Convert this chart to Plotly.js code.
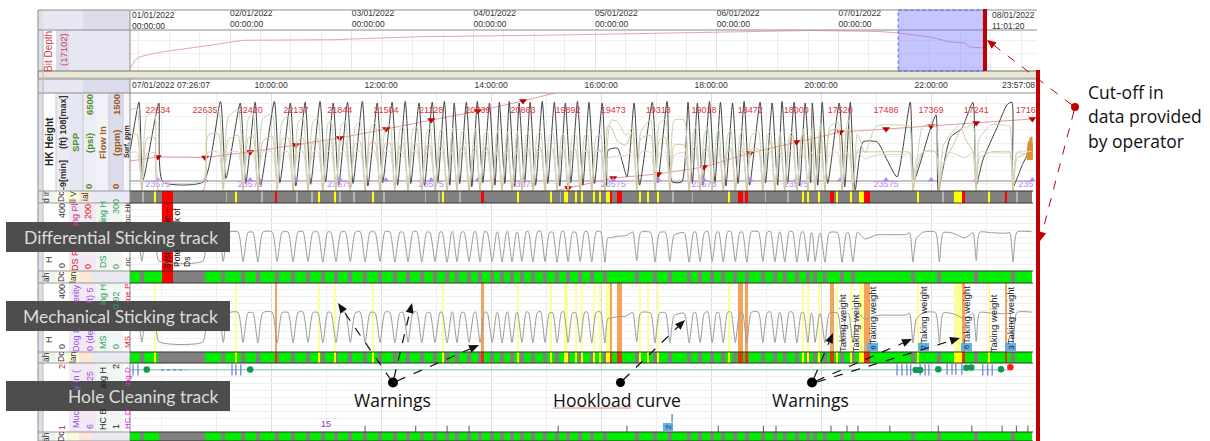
<!DOCTYPE html>
<html><head><meta charset="utf-8">
<script src="https://cdn.plot.ly/plotly-3.0.1.min.js"></script>
<style>html,body{margin:0;padding:0;background:#fff}</style></head>
<body><div id="c" style="width:1210px;height:441px"></div>
<script>
// ---------- DATA ----------
// overview track: time in days since 01/01/2022, bit depth in ft
const overviewDay = [0.18,0.22,0.26,0.42,0.81,1.11,1.85,2.56,3.71,5.77,6.34,6.49,6.75,6.92,7.04,7.08,7.19];
const overviewDepth = [9718,12670,13888,15510,17950,19940,20160,21270,21895,23555,23185,22633,21157,19312,18943,17467,17100];
const overviewTicks = [1,2,3,4,5,6];
const overviewTickText = ['02/01/2022<br>00:00:00','03/01/2022<br>00:00:00','04/01/2022<br>00:00:00','05/01/2022<br>00:00:00','06/01/2022<br>00:00:00','07/01/2022<br>00:00:00'];
const mainTicks = [10,12,14,16,18,20,22];
const mainTickText = ['10:00:00','12:00:00','14:00:00','16:00:00','18:00:00','20:00:00','22:00:00'];

// hookload / SPP / flow share one time base (hours of 07/01/2022)
const hookT = [7.44,7.56,7.65,7.74, 7.88,7.96,8.76,8.85,
 9.04,9.13,9.22, 9.40,9.49,9.58, 9.67,9.76,9.85, 10.02,10.11,10.20, 10.31,10.40,10.49, 10.58,10.67,10.76,
 10.85,10.94,11.03, 11.09,11.18,11.27, 11.35,11.44,11.53, 11.62,11.71,11.80, 11.89,11.98,12.07, 12.16,12.25,12.34,
 12.40,12.49,12.58, 12.65,12.74,12.83, 12.89,12.98,13.07, 13.11,13.20,13.28, 13.30,13.38,13.46, 13.51,13.60,13.69,
 13.72,13.80,13.88, 13.93,14.02,14.10, 14.12,14.20,14.28, 14.30,14.38,14.46, 14.48,14.56,14.64, 14.68,14.76,14.84,
 14.90,14.98,15.06, 15.12,15.20,15.28, 15.32,15.40,15.48, 15.54,15.62,15.70, 15.75,15.83,15.91, 15.99,16.07,16.12,
 16.18,16.30,16.45,16.56, 16.58,16.65,16.72, 16.90,16.98,17.06, 17.17,17.25,17.33, 17.51,17.60,17.68,
 17.72,17.80,17.88, 17.94,18.02,18.10, 18.14,18.22,18.30, 18.36,18.44,18.52, 18.57,18.65,18.73, 18.86,18.94,19.02,
 19.08,19.16,19.24, 19.26,19.34,19.42, 19.48,19.56,19.64, 19.68,19.76,19.82, 19.84,19.89,19.97, 19.99,20.07,20.15,
 20.30,20.38,20.46, 20.50,20.58,20.66,
 20.80,21.00,21.55,21.61,21.67,21.73,21.85,22.08,22.15,22.22,22.40,22.55,22.62,22.76,22.82,22.88,23.10,23.35,23.43,23.49,23.56,23.83];
const hookV = [226,228,58,222, 224,60,58,226,
 228,56,226, 230,54,227, 228,52,229, 231,55,228, 229,53,230, 232,56,228,
 229,52,231, 227,54,229, 230,55,228, 232,53,229, 228,56,231, 230,52,227,
 229,55,232, 231,53,228, 227,56,230, 229,52,226, 233,54,228, 230,56,229,
 232,53,231, 228,55,226, 230,52,229, 233,54,227, 229,56,232, 231,53,228,
 235,55,226, 229,52,231, 234,54,228, 227,56,230, 232,53,229, 233,52,194,
 196,205,208,229, 229,60,228, 226,53,225, 228,55,212, 225,52,226,
 230,54,227, 233,56,229, 228,53,231, 232,55,226, 229,52,230, 231,56,228,
 233,54,229, 227,53,231, 232,52,228, 229,55,226, 220,56,218, 223,52,226,
 225,50,221, 224,53,228,
 188,212,215,225,53,190,228,228,53,226,222,200,194,225,60,228,225,222,225,53,229,231];
const sppV = [5400,5450,200,5000, 5200,40,40,5300,
 5300,150,4900, 5400,120,4700, 5200,90,4800, 5100,160,4600, 4950,80,4500, 4900,110,4600,
 4800,130,4400, 4700,70,4300, 4650,140,4250, 4600,90,4100, 4500,60,4050, 4400,120,4000,
 4300,80,4100, 4250,100,3900, 4200,60,3950, 4100,90,3800, 4150,110,3850, 4000,70,3800,
 4100,90,3750, 3950,60,3800, 4000,120,3700, 3900,80,3750, 3950,100,3700, 3850,60,3750,
 3900,90,3700, 3850,110,3650, 3800,70,3700, 3750,100,3650, 3800,80,3600, 3700,90,3400,
 4700,4600,3700,4200, 4300,120,3900, 4700,90,4500, 4750,110,4700, 4700,80,3900,
 4300,100,3800, 4200,70,3750, 4100,120,3700, 4050,90,3600, 4000,60,3650, 3950,100,3600,
 4000,80,3650, 3900,110,3600, 3950,70,3500, 4100,90,3700, 4300,100,3900, 4500,60,4200,
 4600,90,4300, 4700,70,3800,
 2500,4300,4350,4300,100,1500,4300,4300,60,3000,4000,4500,4200,4400,100,3500,4400,4350,4300,80,2500,2400];
const flowV = [860,870,10,800, 820,0,0,850,
 880,20,780, 850,10,800, 860,0,760, 840,15,790, 820,5,770, 810,10,760,
 800,0,750, 790,20,760, 770,5,730, 760,0,740, 750,10,720, 740,15,700,
 730,0,710, 720,10,690, 700,5,680, 710,0,670, 690,15,680, 680,5,660,
 690,0,670, 670,10,650, 680,5,660, 660,0,640, 670,10,650, 650,5,640,
 660,0,630, 640,10,620, 650,5,630, 630,0,610, 640,10,620, 620,0,1000,
 980,760,700,900, 880,15,800, 850,10,780, 820,0,700, 700,5,650,
 690,0,640, 680,10,650, 670,5,630, 660,0,620, 650,10,640, 640,5,620,
 760,0,700, 800,10,760, 850,5,800, 900,0,830, 920,10,880, 950,0,900,
 960,5,880, 940,0,620,
 600,600,600,590,0,300,600,600,0,400,700,950,800,600,0,500,600,600,600,0,500,600];
// block height
const blockT = [7.44,7.60,7.67,7.96,8.03,8.77,9.08,9.18,9.44,9.54,9.71,9.81,10.06,10.16,10.35,10.45,10.62,10.72,10.89,10.99,
 11.13,11.23,11.39,11.49,11.66,11.76,11.93,12.03,12.20,12.30,12.44,12.54,12.69,12.79,12.93,13.03,13.15,13.25,13.33,13.43,
 13.55,13.65,13.75,13.85,13.97,14.07,14.15,14.25,14.33,14.43,14.51,14.61,14.71,14.81,14.93,15.03,15.15,15.25,15.35,15.45,
 15.57,15.67,15.78,15.88,16.02,16.10,16.13,16.30,16.47,16.60,16.70,16.93,17.03,17.20,17.29,17.47,17.58,17.66,17.75,17.85,
 17.97,18.07,18.17,18.27,18.39,18.49,18.60,18.70,18.89,18.99,19.11,19.21,19.29,19.39,19.51,19.61,19.71,19.81,19.84,19.94,
 20.02,20.12,20.33,20.43,20.53,20.62,20.76,21.02,21.20,21.38,21.62,21.69,21.98,22.09,22.13,22.35,22.56,22.76,22.82,22.94,
 23.20,23.38,23.47,23.49,23.67,23.83];
const blockV = [40,97,4,96,2,2,98,6,96,0,97,-2,98,1,96,-3,97,-1,98,2,
 96,-2,97,0,98,-3,96,1,97,-2,98,0,96,-3,97,1,98,-2,96,0,
 97,-4,98,1,96,-2,97,0,98,-3,96,1,97,-2,98,0,97,-3,96,1,
 98,-2,97,0,96,-3,40,42,8,96,-2,97,1,98,2,2,97,0,96,-2,
 98,1,97,-3,96,0,98,-2,97,1,96,-2,98,0,97,-3,96,1,96,-2,
 97,0,96,-4,97,-8,49.5,49.5,28,7.7,97,4,64,82,-8,55,66,97,-2,28,
 67,94,97,-4,24,43];
// bit depth curve drawn wrapped inside the main track, in track units
const wrapT = [7.44,7.94,8.80,9.62,10.45,11.25,12.09,12.91,13.76,14.58,15.16,null,15.16,15.40,16.22,17.04,17.87,18.71,19.55,20.35,21.18,22.00,22.82,23.84];
const wrapV = [26.8,31.6,31,37.6,45.9,54.3,65,75.8,86.5,98.5,108,null,-9,-5.4,6.5,11.3,19.7,36.4,49.5,61.4,65,68.6,72.2,77];
const depthT = [7.94,8.80,9.62,10.45,11.25,12.09,12.91,13.76,14.58,15.40,16.22,17.04,17.87,18.71,19.55,20.35,21.18,22.00,22.82,23.84];
const depthMarkV = [31.6,31,37.6,45.9,54.3,65,75.8,86.5,98.5,-5.4,6.5,11.3,19.7,36.4,49.5,61.4,65,68.6,72.2,77];
const depthLabels = ['22634','22635','22420','22137','21844','21504','21128','20739','20863','19892','19473','19313','19018','18472','18000','17520','17486','17369','17241','1716'];
const casingT = [7.94,9.62,11.25,12.91,14.58,16.22,17.87,19.55,21.18,23.72];
const casingLabels = ['23575','23575','23575','23575','23575','23575','23575','23575','23575','235'];
const flowBlobT = [23.74,23.77,23.78,23.80,23.81,23.83,23.84,23.84,23.74];
const flowBlobV = [540,760,620,820,640,830,700,480,480];
// connections / warnings
const dipT = [7.65,9.13,9.49,9.76,10.11,10.40,10.67,10.94,11.18,11.44,11.71,11.98,12.25,12.49,12.74,12.98,13.20,13.38,13.60,13.80,14.02,14.20,14.38,14.56,14.76,14.98,15.20,15.40,15.62,15.83,16.07,16.65,16.98,17.25,17.60,17.80,18.02,18.22,18.44,18.65,18.94,19.16,19.34,19.56,19.76,19.89,20.07,20.38,20.58,21.67,22.15,22.82,23.49];
const yellowT = [7.89,9.36,10.87,11.16,11.85,13.13,14.49,15.09,15.36,15.54,15.65,15.87,15.98,16.12,16.71,16.85,17.04,18.33,19.67,19.76,19.96,20.29,20.55,20.74,21.76,22.49,23.05];
const yellowW = [.035,.035,.035,.035,.035,.035,.035,.035,.06,.035,.035,.035,.035,.07,.035,.035,.035,.035,.035,.035,.05,.05,.035,.1,.035,.16,.035];
const redT = [10.09,13.84,16.18,16.33,18.53,18.64,20.20,20.83,22.59,23.36];
const redW = [.03,.05,.05,.09,.09,.06,.07,.1,.04,.05];
const lightT = [7.67,9.19,9.83,10.47,10.74,11.25,11.51,12.05,12.81,13.05,13.44,15.26,17.31,17.66,18.99,19.40,22.22,23.56];
const weightT = [20.38,20.62,20.93,21.85,22.63,23.13,23.44];
const weightRow = [323,323,315,315,315,323,315];
const weightBoxT = [20.94,21.86,22.64,23.45];
const weightBoxText = ['6','2','6','3'];
// hole cleaning
const hcLineT = [7.44,23.40];
const hcLineV = [1.9,1.9];
const hcBlueT = [7.49,7.58,9.29,9.36,9.45,21.38,21.47,21.56,21.63,21.80,21.89,21.96,22.94,23.03,23.11];
const hcBlueT2 = [22.29,22.38,22.45,22.56];
const hcGoodT = [7.74,9.62,21.72,21.80,22.13,22.64,22.73,23.27];
const hcGoodV = [1.905,1.905,1.9,1.9,1.91,1.93,1.935,1.91];
const hcBadT = [23.44];
const hcBadV = [1.94];
const hcTickT = [11.71,12.63,13.2,13.6,15.22,16.47,18.13,18.95,19.18,20.18,20.47,20.67,21.25,22.13,22.74,23.29,23.55,23.76];
const hcCountT = [11.0];
const hcCountText = ['15'];

// ---------- helpers ----------
const W=1210,H=441;
const px=x=>x/W, py=y=>1-y/H;
const dom=(t,b)=>[1-b/H,1-t/H];
const X0=130,X1=1037;
const xDom=[X0/W,X1/W];
const yBase={showticklabels:false,zeroline:false,ticks:'',showline:false,fixedrange:true,anchor:'x'};
const shapes=[],ann=[];
function rect(x0,y0,x1,y1,fill,line,layer,lw){shapes.push({type:'rect',xref:'paper',yref:'paper',x0:px(x0),x1:px(x1),y0:py(y0),y1:py(y1),fillcolor:fill||'rgba(0,0,0,0)',line:{width:line?(lw||1):0,color:line||'rgba(0,0,0,0)'},layer:layer||'below'});}
function hline(x0,x1,y,c,w,layer){shapes.push({type:'line',xref:'paper',yref:'paper',x0:px(x0),x1:px(x1),y0:py(y),y1:py(y),line:{color:c,width:w||1},layer:layer||'above'});}
function vline(x,y0,y1,c,w,layer){shapes.push({type:'line',xref:'paper',yref:'paper',x0:px(x),x1:px(x),y0:py(y0),y1:py(y1),line:{color:c,width:w||1},layer:layer||'above'});}
function dot(x,y,r,c){shapes.push({type:'circle',xref:'paper',yref:'paper',x0:px(x-r),x1:px(x+r),y0:py(y-r),y1:py(y+r),fillcolor:c,line:{width:0},layer:'above'});}
function arrow(x0,y0,x1,y1,c,lw,L,hw){
 const d=Math.hypot(x1-x0,y1-y0),ux=(x1-x0)/d,uy=(y1-y0)/d;
 const bx=x1-ux*L,by=y1-uy*L;
 shapes.push({type:'line',xref:'paper',yref:'paper',x0:px(x0),y0:py(y0),x1:px(bx),y1:py(by),line:{color:c,width:lw,dash:'dash'},layer:'above'});
 const a=[bx-uy*hw,by+ux*hw],b=[bx+uy*hw,by-ux*hw];
 shapes.push({type:'path',xref:'paper',yref:'paper',path:`M${px(x1)},${py(y1)} L${px(a[0])},${py(a[1])} L${px(b[0])},${py(b[1])} Z`,fillcolor:c,line:{width:0},layer:'above'});
}
const A=o=>ann.push(Object.assign({xref:'paper',yref:'paper',showarrow:false,xanchor:'center',yanchor:'middle',borderpad:0},o));
function txt(t,x,y,o={}){A(Object.assign({text:t,x:px(x),y:py(y),font:{family:o.family||'Liberation Sans, Arial, sans-serif',size:o.size||9,color:o.color||'#333'}},o.extra||{}));}
function rot(t,x,y,color,size,bold){txt(bold?'<b>'+t+'</b>':t,x,y,{color,size:size||9,extra:{textangle:-90}});}

// ---------- static frame ----------
const lav='#e7e7f3',lav2='#dcdcec';
[[10,30],[30,71],[79,93],[93,191],[191,203],[203,271],[271,283],[283,352],[352,363],[363,432],[432,441]].forEach(r=>{
 rect(38,r[0],130,r[1],lav);
 rect(38,r[0],43,r[1],'#dfdfe6');
});
rect(83,10,130,30,lav2); rect(83,79,130,93,lav2);
rect(43,30,56,71,'#ffffff'); rect(56,30,69,71,lav2);
rect(43,93,56,191,'#ffffff'); rect(56,93,69,191,'#ececf4'); rect(69,93,83,191,lav); rect(83,93,96,191,'#ededf6');
rect(96,93,109,191,'#f1f1f8'); rect(109,93,123,191,lav2); rect(123,93,130,191,'#f7f7fb');
[[203,271],[283,352],[363,432]].forEach(r=>{
 rect(43,r[0],56,r[1],'#ffffff'); rect(56,r[0],69,r[1],'#ffffff'); rect(69,r[0],83,r[1],'#f1e9f4'); rect(83,r[0],96,r[1],'#f3e9f3');
 rect(96,r[0],109,r[1],'#eef6f1'); rect(109,r[0],123,r[1],'#f3f7f4'); rect(123,r[0],130,r[1],'#ffffff');
});
[[191,203],[271,283],[352,363],[432,441]].forEach(r=>{rect(43,r[0],56,r[1],'#f0f6ec');rect(56,r[0],66,r[1],'#ffffff');rect(66,r[0],79,r[1],'#fbfbdc');rect(79,r[0],92,r[1],'#fbe8d8');rect(92,r[0],130,r[1],'#e9e9f3');});
rect(38,71,1037,78,'#e9e7d6','#bbb9a8','above');
hline(38,1037,10,'#8c8c8c',1); hline(38,1037,30,'#8c8c8c',1); hline(38,1037,71,'#8c8c8c',1);
hline(38,1037,79,'#8c8c8c',1); hline(38,1037,93,'#8c8c8c',1);
vline(38,10,441,'#8c8c8c',1); vline(130,10,71,'#8c8c8c',1); vline(130,79,441,'#8c8c8c',1);
vline(56,93,191,'#c8c8d4',1);vline(83,93,191,'#c8c8d4',1);vline(109,93,191,'#c8c8d4',1);vline(123,93,191,'#c8c8d4',1);vline(43,30,441,'#b8b8c4',1);
[[191,203],[271,283],[352,363],[432,441]].forEach(r=>{hline(130,1033,r[0],'#333',1);hline(130,1033,r[1],'#333',1);hline(38,130,r[0],'#999',1);hline(38,130,r[1],'#999',1);});

// selection on the overview
shapes.push({type:'rect',xref:'x2',yref:'paper',x0:6.49,x1:7.19,y0:py(71),y1:py(10),fillcolor:'rgba(110,110,255,0.40)',line:{color:'#5a5ae0',width:1,dash:'dot'},layer:'above'});
// cut-off bars
rect(983,9,987,71,'#c00000',null,'above');
rect(1036,70,1040,441,'#c00000',null,'above');
// overlay plates
rect(6,222,230,252,'#4d4d4d',null,'above');
rect(6,301,230,331,'#4d4d4d',null,'above');
rect(6,381,230,411,'#4d4d4d',null,'above');

// ---------- text ----------
rot('Bit Depth',48,52,'#d8404a',10); rot('(17102)',64,50,'#d8404a',9.5);
rot('HK Height',49,142,'#222',10,true); rot('(ft) 108[max]',63,122,'#333',9,true); rot('-9[min]',63,175,'#333',9,true);
rot('SPP',75,142,'#4f8f1f',9.5,true); rot('6500',89,105,'#4f8f1f',9.5,true); rot('(psi)',89,143,'#4f8f1f',9.5,true); rot('0',89,187,'#4f8f1f',9.5,true);
rot('Flow In',102,142,'#9a5a20',9.5,true); rot('1500',116,105,'#9a5a20',9.5,true); rot('(gpm)',116,143,'#9a5a20',9.5,true); rot('0',116,187,'#9a5a20',9.5,true);
rot('Surf. ppm',127,142,'#222',7,true);
[[46,'d ir','#333'],[61,'Dc','#333'],[73,'ll V','#333'],[85,'ial','#333']].forEach(a=>rot(a[1],a[0],197,a[2],8.5));
rot('H',49,260,'#333',9); rot('400',62,211,'#333',9); rot('0',62,266,'#333',9); rot('ing Pl',75,215,'#c04090',9); rot('DS F',75,261,'#e02020',9);
rot('200',88,212,'#e02020',9); rot('0',88,267,'#e02020',9); rot('ing H',103,212,'#30a060',9); rot('DS',103,262,'#30a060',9);
rot('300',116,207,'#30a060',9); rot('0',116,267,'#30a060',9); rot('nc Hk',127,213,'#333',8); rot('nc',127,262,'#333',8);
[[46,'ah'],[61,'Dc'],[73,'lan']].forEach(a=>{rot(a[1],a[0],277,'#333',8.5);rot(a[1],a[0],357,'#333',8.5);});
rot('ah',46,437,'#333',8.5); rot('Dc',61,437,'#333',8.5);
rot('H',49,340,'#333',9); rot('400',62,292,'#333',9); rot('0',62,347,'#333',9); rot('erity',76,293,'#9a50e0',9); rot('Dog L',76,340,'#9a50e0',9);
rot('ft) 5',90,295,'#9a50e0',9); rot('0 (de',90,341,'#9a50e0',9); rot('ing H',103,295,'#30a060',9); rot('MS',103,342,'#30a060',9);
rot('0.92',116,300,'#30a060',9); rot('0',116,347,'#30a060',9); rot('MS',127,342,'#e02020',8); rot('ine P',127,293,'#e02020',8);
rot('2',62,367,'#e02020',9); rot('1',62,428,'#e02020',9); rot('y In (',76,380,'#9a50e0',9); rot('Muc',76,419,'#9a50e0',9);
rot('25',90,376,'#9a50e0',9); rot('6',90,427,'#9a50e0',9); rot('ing H',103,378,'#222',9); rot('HC B',103,419,'#222',9);
rot('2',116,367,'#222',9); rot('1',116,427,'#222',9); rot('HC D',127,419,'#e020e0',8); rot('ing D',127,377,'#e020e0',8);
// header corner texts
txt('07/01/2022 07:26:07',131,85,{size:8.5,extra:{xanchor:'left'}});
txt('23:57:08',1036,85,{size:8.5,extra:{xanchor:'right'}});
txt('01/01/2022<br>00:00:00',131,20,{size:8.5,extra:{xanchor:'left',align:'left'}});
txt('08/01/2022<br>11:01:20',1036,20,{size:8.5,extra:{xanchor:'right',align:'left'}});
// red block text
rot('Syst',167,261,'#111',8.5); rot('ic –',167,215,'#111',8.5); rot('k of',177,215,'#111',8.5); rot('Pote',177,258,'#111',8.5); rot('Ds',187,262,'#111',8.5);
// Taking weight
weightT.forEach((t,i)=>A({text:'Taking weight',x:t,y:py(weightRow[i]),xref:'x',textangle:-90,font:{family:'Liberation Sans, Arial',size:9.5,color:'#222'}}));
weightBoxT.forEach((t,i)=>A({text:weightBoxText[i],x:t,y:py(347),xref:'x',textangle:-90,font:{family:'Liberation Sans, Arial',size:8,color:'#222'}}));
A({text:'2',x:17.22,y:py(427),xref:'x',textangle:-90,font:{family:'Liberation Sans, Arial',size:8,color:'#222'}});
// plates
const plate={family:'Lato, sans-serif',size:17.5,color:'#dcdcdc'};
[['Differential Sticking track',237],['Mechanical Sticking track',316],['Hole Cleaning track',396]].forEach(a=>A({text:a[0],x:px(219),y:py(a[1]),xanchor:'right',font:plate}));
// callouts
const cf={family:'Open Sans, sans-serif',size:17.5,color:'#111'};
[['Warnings',392],['Hookload curve',617],['Warnings',810]].forEach(a=>A({text:a[0],x:px(a[1]),y:py(400),font:cf}));
[['Cut-off in',92],['data provided',116],['by operator',141]].forEach(a=>A({text:a[0],x:px(1087),y:py(a[1]),xanchor:'left',font:cf}));
hline(553,631,408,'#e88080',1);
dot(393,382.5,5,'#000'); dot(620.5,382.5,4.5,'#000'); dot(812,382.5,5,'#000');
arrow(391,380,338,303,'#111',1.2,10,4); arrow(394,378,412,303,'#111',1.2,10,4); arrow(397,381,479,345,'#111',1.2,10,4);
arrow(623,380,685,320,'#111',1.2,10,4);
arrow(814,378,833,333,'#111',1.2,10,4); arrow(816,381,912,339,'#111',1.2,10,4); arrow(817,382,960,338,'#111',1.2,10,4);
dot(1075,107,4,'#c00000');
arrow(1072,105,987,40,'#c00000',1,9,4); arrow(1074,111,1040,241,'#c00000',1,9,4);

// ---------- traces ----------
const line=(x,y,c,w,ya,xa,extra)=>Object.assign({type:'scatter',mode:'lines',x,y,xaxis:xa||'x',yaxis:ya,line:{color:c,width:w},hoverinfo:'skip',showlegend:false},extra||{});
const soft=(x,y,c,w,ya)=>line(x,y,c,w,ya,'x',{line:{color:c,width:w,shape:'spline',smoothing:0.55}});
const vbar=(x,w,c,ya,h,op)=>({type:'bar',x,width:w,y:x.map(()=>h),yaxis:ya,xaxis:'x',marker:{color:c,line:{width:0}},opacity:op||1,hoverinfo:'skip',showlegend:false});
const fullBar=(c,ya)=>vbar([15.63],[16.4],c,ya,1);
const dipW=dipT.map(()=>0.07), lightW=lightT.map(()=>0.03);
const marks=(x,y,ya,marker)=>({type:'scatter',mode:'markers',x,y,yaxis:ya,marker,hoverinfo:'skip',showlegend:false});
const traces=[
 line(overviewDay,overviewDepth,'#e8a6a8',1,'y2','x2'),
 // main
 line([7.44,23.84],[3,3],'#c4c4c4',2,'y'),
 soft(hookT,hookV,'#d6d6d0',1,'y12'),
 soft(hookT,sppV,'#c4d6b6',1,'y10'),
 soft(hookT,flowV,'#d8c498',1,'y11'),
 line(flowBlobT,flowBlobV,'#d98a2b',1,'y11','x',{fill:'toself',fillcolor:'#e0932f'}),
 line(wrapT,wrapV,'#ea9a9c',1,'y'),
 soft(blockT,blockV,'#444444',1,'y'),
 marks(depthT,depthMarkV,'y',{symbol:'triangle-down',size:7,color:'#c00000'}),
 {type:'scatter',mode:'text',x:depthT.slice(0,-1).concat([23.72]),y:depthT.map(()=>86.5),text:depthLabels,yaxis:'y',textfont:{family:'Liberation Sans, Arial',size:9,color:'#d9343c'},textposition:'middle center',hoverinfo:'skip',showlegend:false},
 marks(depthT,depthT.map(()=>4),'y',{symbol:'triangle-up',size:6,color:'#b388f0'}),
 {type:'scatter',mode:'text',x:casingT,y:casingT.map(()=>-1.8),text:casingLabels,yaxis:'y',textfont:{family:'Liberation Sans, Arial',size:9,color:'#b98af5'},textposition:'middle center',hoverinfo:'skip',showlegend:false},
 // status track
 fullBar('#808080','y3'), vbar(lightT,lightW,'#b4b4b4','y3',1), vbar(yellowT,yellowW,'#ffff00','y3',1), vbar(redT,redW,'#ff0000','y3',1), vbar([8.12],[0.2],'#ff0000','y3',1),
 // differential
 vbar([8.12],[0.2],'#ff0000','y4',400),
 soft(hookT,hookV,'#9a9a9a',1,'y4'),
 fullBar('#00ee00','y5'), vbar(dipT,dipW,'#808080','y5',1), vbar([8.51],[0.58],'#808080','y5',1), vbar([8.12],[0.2],'#ff0000','y5',1),
 // mechanical
 vbar(yellowT,yellowW,'#ffff99','y6',400), vbar(redT,redW,'#f4a35c','y6',400),
 Object.assign(vbar(weightBoxT,weightBoxT.map(()=>0.2),'#62b0e8','y6',46),{base:weightBoxT.map(()=>6)}),
 soft(hookT,hookV,'#9a9a9a',1,'y6'),
 fullBar('#00ee00','y7'), vbar(dipT,dipW,'#808080','y7',1), vbar([8.37],[0.86],'#808080','y7',1), vbar(yellowT,yellowW,'#ffff00','y7',1), vbar(redT,redW,'#e83010','y7',1),
 // hole cleaning
 Object.assign(vbar([17.22],[0.18],'#62b0e8','y8',0.12),{base:[1.01]}),
 line(hcLineT,hcLineV,'#83c2b4',1,'y8'),
 line([8.0,8.45],[1.9,1.9],'#6a78e0',1.2,'y8','x',{line:{color:'#6a78e0',width:1.2,dash:'dot'}}),
 marks(hcBlueT,hcBlueT.map(()=>1.9),'y8',{symbol:'line-ns',size:8,line:{width:1,color:'#4a5fd0'}}),
 marks(hcBlueT2,hcBlueT2.map(()=>1.91),'y8',{symbol:'line-ns',size:8,line:{width:1,color:'#4a5fd0'}}),
 marks(hcGoodT,hcGoodV,'y8',{size:6.5,color:'#0e9a50'}),
 marks(hcBadT,hcBadV,'y8',{size:6.5,color:'#ff1a1a'}),
 marks(hcTickT,hcTickT.map(()=>1.04),'y8',{symbol:'line-ns',size:5,line:{width:1,color:'#555'}}),
 marks([17.29],[1.2],'y8',{symbol:'line-ns',size:6,line:{width:1,color:'#555'}}),
 {type:'scatter',mode:'text',x:hcCountT,y:[1.1],text:hcCountText,yaxis:'y8',textfont:{family:'Liberation Sans, Arial',size:9,color:'#9a30c0'},hoverinfo:'skip',showlegend:false},
 // bottom bar
 fullBar('#00ee00','y9'), vbar(dipT,dipW,'#808080','y9',1), vbar([8.38],[0.84],'#808080','y9',1)
];
const gy=(t,b,range,dtick,extra)=>Object.assign({},yBase,{domain:dom(t,b),range,showgrid:!!dtick,dtick,gridcolor:'#f0f0f0',gridwidth:1},extra||{});
const layout={
 width:W,height:H,margin:{l:0,r:0,t:0,b:0},paper_bgcolor:'#fff',plot_bgcolor:'#fff',barmode:'overlay',bargap:0,showlegend:false,
 font:{family:'Liberation Sans, Arial, sans-serif',size:8.5,color:'#333'},
 xaxis:{domain:xDom,range:[7.435,23.925],side:'top',anchor:'y',tickmode:'array',tickvals:mainTicks,ticktext:mainTickText,ticks:'',ticklabelstandoff:2,showline:false,zeroline:false,showgrid:true,gridcolor:'#dedede',fixedrange:true,tickfont:{size:8.5,color:'#333'},minor:{tick0:10,dtick:1,showgrid:true,gridcolor:'#efefef',ticks:''}},
 xaxis2:{domain:xDom,range:[0.178,7.631],side:'top',anchor:'y2',tickmode:'array',tickvals:overviewTicks,ticktext:overviewTickText,ticklabelposition:'outside right',ticks:'',showline:false,zeroline:false,showgrid:true,gridcolor:'#e4e4e4',fixedrange:true,tickfont:{size:8.5,color:'#333'},minor:{tick0:1,dtick:0.25,showgrid:true,gridcolor:'#ececec',ticks:''}},
 yaxis:gy(93,191,[-9,108],16),
 yaxis2:gy(30,71,[8600,23740],5000,{anchor:'x2'}),
 yaxis3:gy(191,203,[0,1]),
 yaxis4:gy(203,271,[0,400],40),
 yaxis5:gy(271,283,[0,1]),
 yaxis6:gy(283,352,[0,400],40),
 yaxis7:gy(352,363,[0,1]),
 yaxis8:gy(363,432,[1,2],0.1),
 yaxis9:gy(432,441,[0,1]),
 yaxis10:Object.assign({},yBase,{domain:dom(93,191),range:[0,6500],overlaying:'y',showgrid:false,visible:false}),
 yaxis11:Object.assign({},yBase,{domain:dom(93,191),range:[0,1500],overlaying:'y',showgrid:false,visible:false}),
 yaxis12:Object.assign({},yBase,{domain:dom(93,191),range:[0,575],overlaying:'y',showgrid:false,visible:false}),
 shapes,annotations:ann
};
Plotly.newPlot('c',traces,layout,{displayModeBar:false,staticPlot:true});
</script></body></html>
